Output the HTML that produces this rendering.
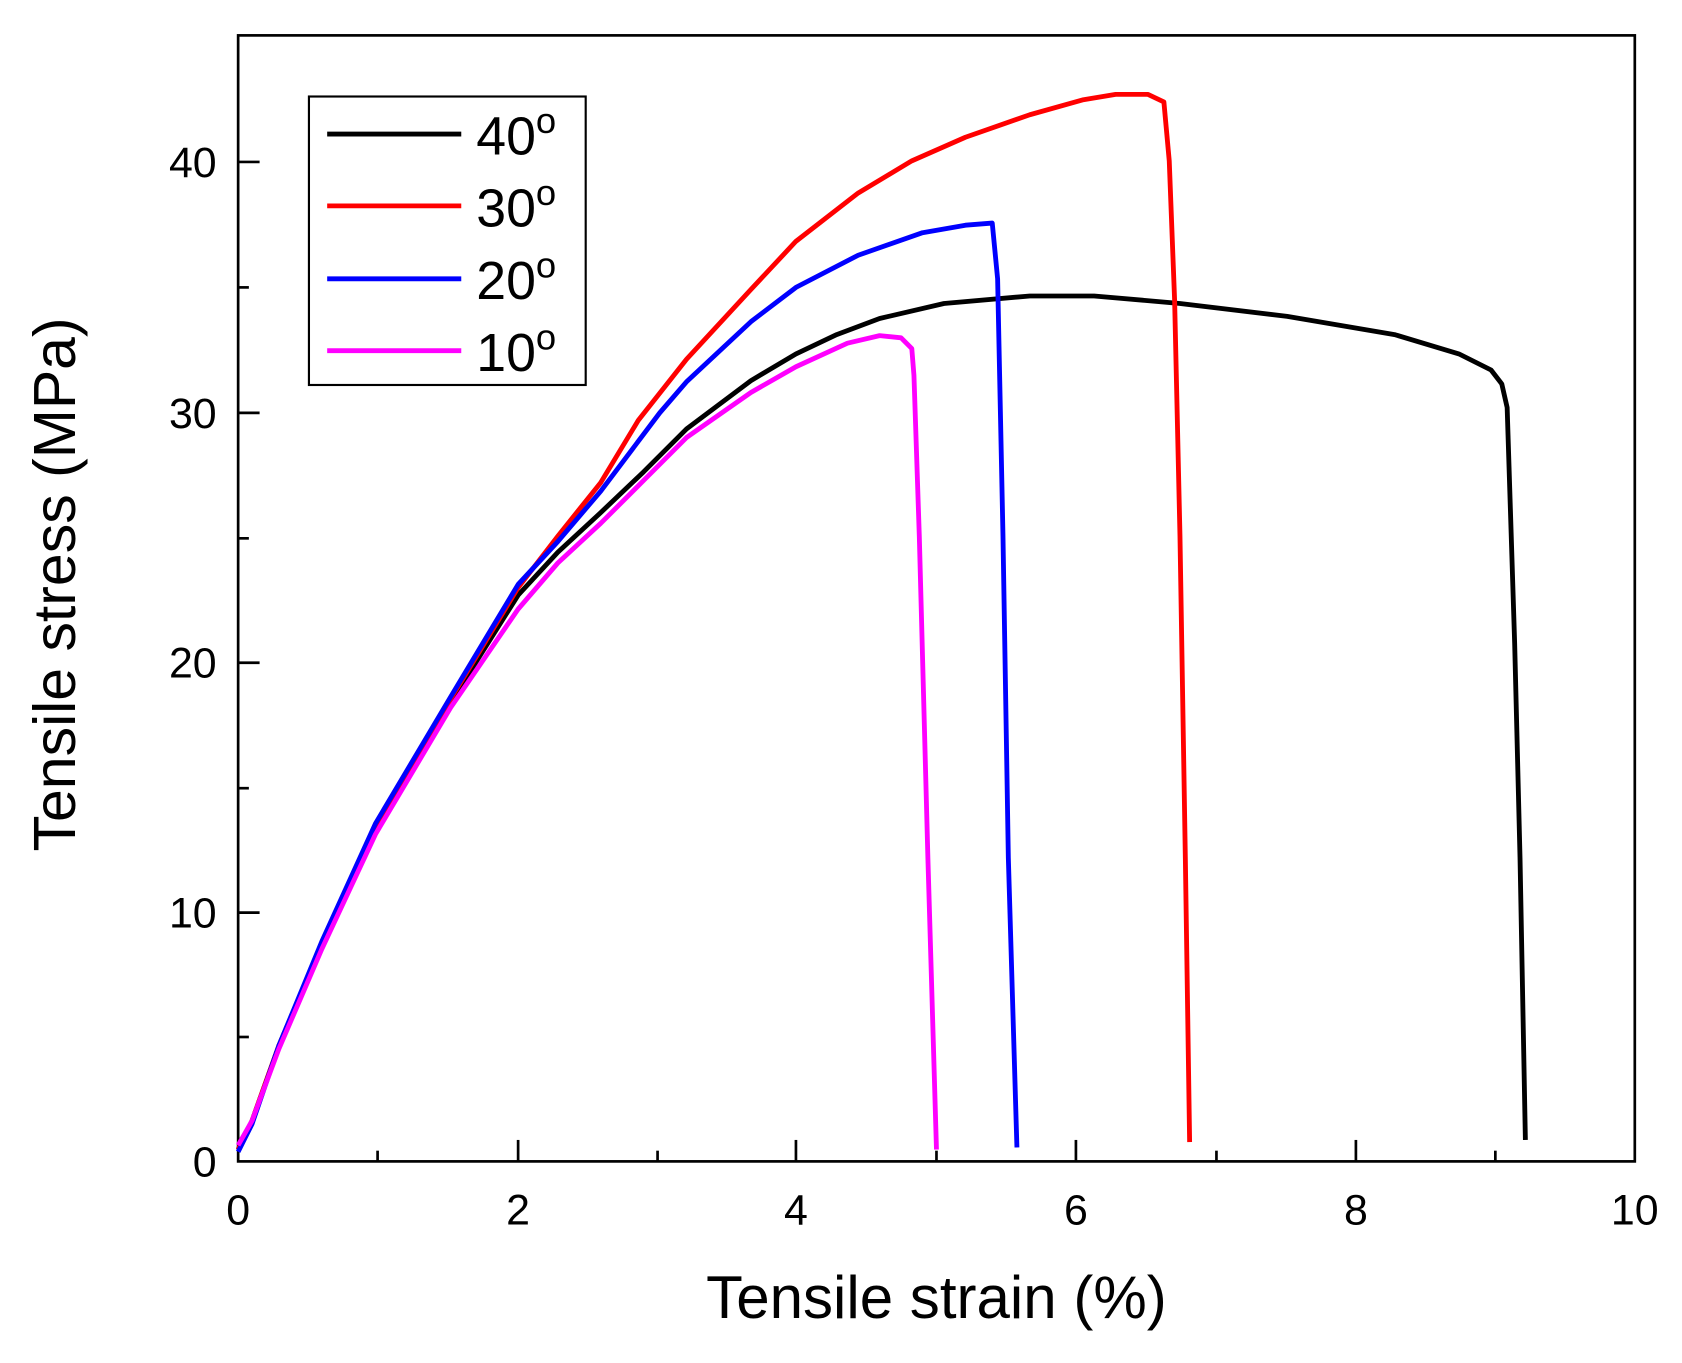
<!DOCTYPE html>
<html><head><meta charset="utf-8"><style>html,body{margin:0;padding:0;background:#fff}svg{display:block}</style></head>
<body>
<svg width="1682" height="1363" viewBox="0 0 1568 1271" preserveAspectRatio="none" xmlns="http://www.w3.org/2000/svg" font-family="Liberation Sans, sans-serif">
<rect x="222" y="33" width="1302" height="1050" fill="none" stroke="#000" stroke-width="2.5"/>
<g stroke="#000" stroke-width="2.5">
<line x1="483" y1="1083" x2="483" y2="1063"/><line x1="742" y1="1083" x2="742" y2="1063"/><line x1="1003" y1="1083" x2="1003" y2="1063"/><line x1="1264" y1="1083" x2="1264" y2="1063"/>
<line x1="352" y1="1083" x2="352" y2="1073"/><line x1="613" y1="1083" x2="613" y2="1073"/><line x1="873" y1="1083" x2="873" y2="1073"/><line x1="1134" y1="1083" x2="1134" y2="1073"/><line x1="1394" y1="1083" x2="1394" y2="1073"/>
<line x1="222" y1="851" x2="242" y2="851"/><line x1="222" y1="618" x2="242" y2="618"/><line x1="222" y1="385" x2="242" y2="385"/><line x1="222" y1="151" x2="242" y2="151"/>
<line x1="222" y1="967" x2="232" y2="967"/><line x1="222" y1="735" x2="232" y2="735"/><line x1="222" y1="502" x2="232" y2="502"/><line x1="222" y1="268" x2="232" y2="268"/>
</g>
<g font-size="40" text-anchor="middle" fill="#000">
<text x="222" y="1142">0</text><text x="483" y="1142">2</text><text x="742" y="1142">4</text><text x="1003" y="1142">6</text><text x="1264" y="1142">8</text><text x="1524" y="1142">10</text>
</g>
<g font-size="40" text-anchor="end" fill="#000">
<text x="202" y="1097">0</text><text x="202" y="865">10</text><text x="202" y="632">20</text><text x="202" y="399">30</text><text x="202" y="165">40</text>
</g>
<text x="873" y="1229" font-size="56" text-anchor="middle">Tensile strain (%)</text>
<text transform="translate(70,545) rotate(-90)" font-size="55" text-anchor="middle">Tensile stress (MPa)</text>
<g fill="none" stroke-width="4.5" stroke-linejoin="round">
<polyline stroke="#000" points="222,1072 235,1045 260,975 300,880 350,772 420,655 483,555 520,515 560,478 600,440 640,400 700,355 742,330 780,312 820,297 880,283 960,276 1020,276 1100,283 1200,295 1300,312 1360,330 1390,345 1400,358 1405,380 1412,600 1417,800 1422,1063"/>
<polyline stroke="#f00" points="222,1072 235,1045 260,975 300,880 350,770 420,652 483,548 520,500 560,450 595,392 640,335 700,270 742,225 800,180 850,150 900,128 960,107 1010,93 1040,88 1070,88 1085,95 1090,150 1095,280 1100,500 1105,800 1109,1065"/>
<polyline stroke="#00f" points="222,1074 235,1048 260,975 300,878 350,768 420,650 483,545 520,505 560,458 615,385 640,356 700,300 742,268 800,238 860,217 900,210 925,208 930,260 935,500 940,800 948,1070"/>
<polyline stroke="#f0f" points="222,1068 235,1045 260,978 300,885 350,778 420,660 483,568 520,525 560,488 600,448 640,408 700,366 742,342 790,320 820,313 840,315 850,325 852,350 857,500 865,800 873,1072"/>
</g>
<rect x="288" y="90" width="258" height="269" fill="#fff" stroke="#000" stroke-width="2"/>
<g stroke-width="4.5">
<line x1="305" y1="125" x2="430" y2="125" stroke="#000"/>
<line x1="305" y1="192" x2="430" y2="192" stroke="#f00"/>
<line x1="305" y1="260" x2="430" y2="260" stroke="#00f"/>
<line x1="305" y1="327" x2="430" y2="327" stroke="#f0f"/>
</g>
<g font-size="50" fill="#000">
<text x="444" y="144">40<tspan font-size="34" dy="-20">o</tspan></text>
<text x="444" y="211">30<tspan font-size="34" dy="-20">o</tspan></text>
<text x="444" y="279">20<tspan font-size="34" dy="-20">o</tspan></text>
<text x="444" y="346">10<tspan font-size="34" dy="-20">o</tspan></text>
</g>
</svg>
</body></html>
